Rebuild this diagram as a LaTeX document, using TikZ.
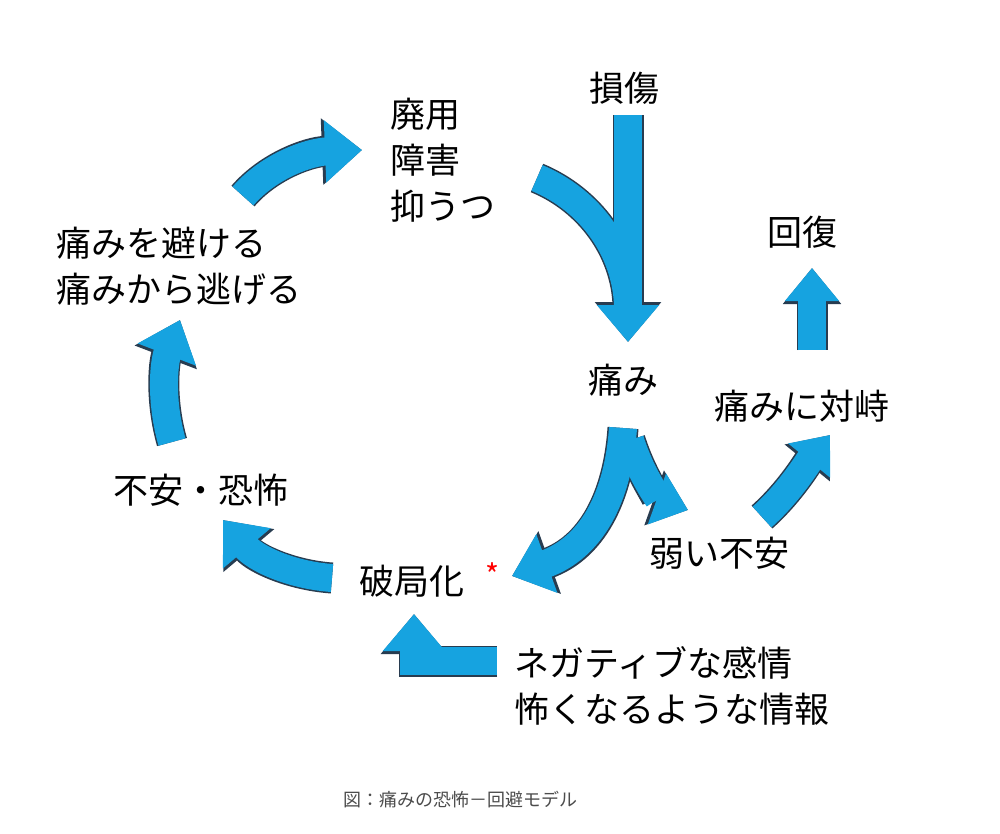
\documentclass[tikz,border=0pt]{standalone}
\usepackage{fontspec}
\setmainfont{Noto Sans CJK JP}
\usetikzlibrary{arrows.meta}
\definecolor{arr}{RGB}{22,163,224}
\definecolor{edge}{RGB}{40,60,80}
\newcommand\myarrows[3]{%
  \draw[#1,-{Triangle[#2]}] (612+16,115) -- (628,342);
  \draw[#1] (537,178) .. controls (590,200) and (626,250) .. (628,305);
  \draw[#1,-{Triangle[#2]}] (623,428) .. controls (618,500) and (590,548) .. (512,576);
  \draw[#1,-{Triangle[#3]}] (630,440) .. controls (642,478) and (660,500) .. (688,510);
  \draw[#1,-{Triangle[#3]}] (762,517) .. controls (790,492) and (808,462) .. (830,435);
  \draw[#1,-{Triangle[#3]}] (812,350) -- (812,268);
  \draw[#1,-{Triangle[#2]}] (332,578) .. controls (290,575) and (255,558) .. (223,520);
  \draw[#1,-{Triangle[#2]}] (172,442) .. controls (160,400) and (164,362) .. (180,320);
  \draw[#1,-{Triangle[#2]}] (243,196) .. controls (270,165) and (310,152) .. (362,150);
  \draw[#1,-{Triangle[#2]},line join=miter] (497,661) -- (414,661) -- (414,614);
}
\begin{document}
\begin{tikzpicture}[x=1pt,y=-1pt,
  lbl/.style={font=\fontsize{35}{46}\selectfont,inner sep=0pt,align=left}]
\useasboundingbox (0,0) rectangle (1000,833);
\fill[white] (0,0) rectangle (1000,833);
\myarrows{draw=edge,line width=31}{width=64,length=40}{width=56,length=36}
\myarrows{draw=arr,line width=28}{width=60,length=37}{width=52,length=33}
\node[lbl] (sonsho) at (624,88) {損傷};
\node[lbl,anchor=west] (haiyo) at (390,160) {廃用\\障害\\抑うつ};
\node[lbl] (kaifuku) at (802,232) {回復};
\node[lbl,anchor=west] (sakeru) at (56,266) {痛みを避ける\\痛みから逃げる};
\node[lbl] (itami) at (623,380) {痛み};
\node[lbl] (taiji) at (802,406) {痛みに対峙};
\node[lbl] (fuan) at (201,490) {不安・恐怖};
\node[lbl] (yowai) at (719,553) {弱い不安};
\node[lbl] (hakyoku) at (412,581) {破局化};
\node[text=red,font=\fontsize{30}{30}\selectfont] (ast) at (492,575) {*};
\node[lbl,anchor=west] (nega) at (514,686) {ネガティブな感情\\怖くなるような情報};
\node[text=black!70,font=\fontsize{18}{20}\selectfont] (cap) at (460,800) {図：痛みの恐怖－回避モデル};
\end{tikzpicture}
\end{document}
